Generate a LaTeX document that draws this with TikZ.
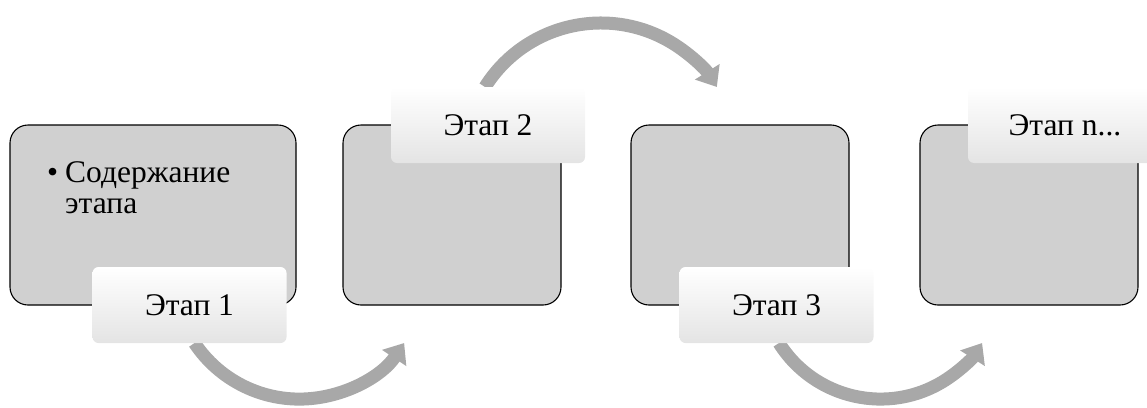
\documentclass[tikz,border=0pt]{standalone}
\usepackage{fontspec}
\setmainfont{Liberation Serif}
\usetikzlibrary{arrows.meta}
\definecolor{boxgray}{RGB}{208,208,208}
\definecolor{arrowgray}{RGB}{168,168,168}
\definecolor{tabgray}{RGB}{228,228,228}
\begin{document}
\begin{tikzpicture}[x=1pt,y=-1pt,
  stagebox/.style={draw=black, line width=1.1pt, fill=boxgray, rounded corners=18pt,
    minimum height=180pt, inner sep=0pt},
  stagetab/.style={rounded corners=6pt, top color=white, middle color=white,
    bottom color=tabgray, minimum width=194pt, minimum height=76pt, inner sep=0pt,
    font=\fontsize{31.5}{31}\selectfont},
  flow/.style={draw=arrowgray, line width=13pt, -{Triangle[width=28pt,length=18pt]}}]
  \useasboundingbox (0,0) rectangle (1147,407);
  \clip (0,0) rectangle (1147,407);

  % stage boxes
  \node[stagebox, minimum width=286pt] (b1) at (153,215) {};
  \node[stagebox, minimum width=218pt] (b2) at (452,215) {};
  \node[stagebox, minimum width=218pt] (b3) at (740,215) {};
  \node[stagebox, minimum width=218pt] (b4) at (1029,215) {};

  % content of the first stage
  \node[anchor=north west, inner sep=0pt, align=left,
        font=\fontsize{31.5}{31}\selectfont] (b1text) at (47,161)
    {\makebox[18pt][l]{\textbullet}Содержание\\\hspace*{18pt}этапа};

  % tab positions
  \coordinate (t1) at (189.5,305);
  \coordinate (t2) at (488,125);
  \coordinate (t3) at (776.5,305);
  \coordinate (t4) at (1065,125);

  % curved arrows between stages
  \coordinate (a1) at (194.5,343);
  \coordinate (a2) at (485,87);
  \coordinate (a3) at (779,343);
  \draw[flow] (a1) arc[start angle=213.7, end angle=326.3, radius=126pt];
  \draw[flow] (a2) arc[start angle=147.8, end angle=32.2, radius=137pt];
  \draw[flow] (a3) arc[start angle=212.2, end angle=327.8, radius=120pt];

  % stage labels
  \node[stagetab] (tab1) at (t1) {Этап 1};
  \node[stagetab] (tab2) at (t2) {Этап 2};
  \node[stagetab] (tab3) at (t3) {Этап 3};
  \node[stagetab] (tab4) at (t4) {Этап n...};
\end{tikzpicture}
\end{document}
